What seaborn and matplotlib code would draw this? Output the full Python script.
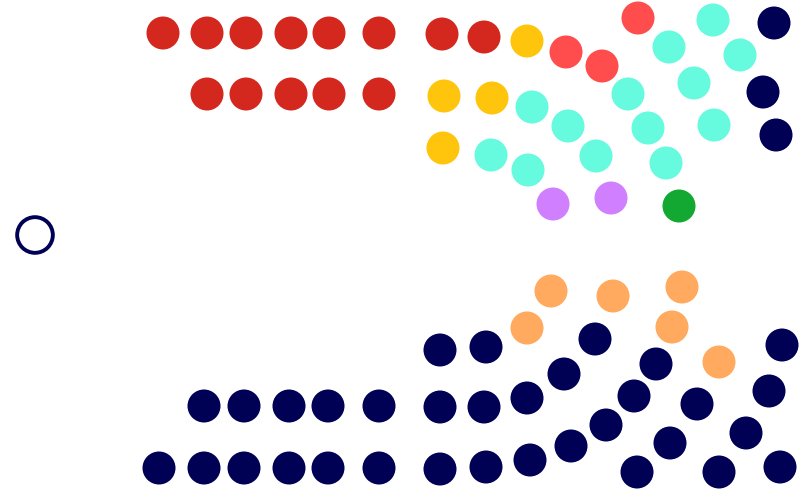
import matplotlib
matplotlib.use("Agg")
import matplotlib.pyplot as plt
import seaborn as sns
import pandas as pd

# Seat positions (in chart pixel units) per party group
dark_red_x = [163, 207, 246, 291, 329, 379, 442, 484, 207, 246, 291, 329, 379]
dark_red_y = [33, 33, 33, 33, 33, 33, 34, 37, 94, 94, 94, 94, 94]

yellow_x = [527, 444, 492, 443]
yellow_y = [41, 96, 98, 148]

light_red_x = [566, 602, 638]
light_red_y = [52, 66, 18]

turquoise_x = [713, 669, 740, 694, 628, 714, 648, 532, 568, 596, 666, 491, 528]
turquoise_y = [20, 47, 55, 83, 94, 125, 128, 107, 126, 156, 163, 155, 170]

navy_top_x = [774, 763, 776]
navy_top_y = [23, 92, 135]

purple_x = [553, 611]
purple_y = [204, 198]

green_x = [679]
green_y = [206]

orange_x = [551, 613, 682, 527, 672, 719]
orange_y = [291, 296, 287, 328, 327, 362]

navy_bottom_x = [440, 486, 595, 782, 564, 656, 527, 440, 484, 634, 697, 769,
                 606, 746, 670, 571, 530, 440, 486, 637, 719, 780,
                 204, 244, 289, 328, 379, 159, 204, 244, 289, 328, 379]
navy_bottom_y = [350, 347, 339, 345, 374, 364, 398, 407, 407, 396, 404, 391,
                 425, 433, 443, 446, 460, 469, 467, 472, 472, 467,
                 406, 406, 406, 406, 406, 468, 468, 468, 468, 468, 468]

speaker_x = [35]
speaker_y = [235]

groups = [
    ("Dark red", dark_red_x, dark_red_y, "#D4271E"),
    ("Yellow", yellow_x, yellow_y, "#FFC50C"),
    ("Light red", light_red_x, light_red_y, "#FF4D4D"),
    ("Turquoise", turquoise_x, turquoise_y, "#66FADF"),
    ("Navy", navy_top_x + navy_bottom_x, navy_top_y + navy_bottom_y, "#000055"),
    ("Purple", purple_x, purple_y, "#D080FF"),
    ("Green", green_x, green_y, "#13A831"),
    ("Orange", orange_x, orange_y, "#FFAA5F"),
]

rows = []
for name, xs, ys, _ in groups:
    for x, y in zip(xs, ys):
        rows.append({"party": name, "x": x, "y": y})
df = pd.DataFrame(rows)
palette = {name: c for name, _, _, c in groups}

sns.set_theme(style="white")
fig = plt.figure(figsize=(8, 4.93), dpi=100)
ax = fig.add_axes([0, 0, 1, 1])

sns.scatterplot(data=df, x="x", y="y", hue="party", palette=palette,
                s=565, linewidth=0, legend=False, ax=ax)

spk = pd.DataFrame({"x": speaker_x, "y": speaker_y})
sns.scatterplot(data=spk, x="x", y="y", s=660, facecolor="none",
                edgecolor="#000055", linewidth=2.8, legend=False, ax=ax)

ax.set_xlim(0, 800)
ax.set_ylim(493, 0)
ax.set_axis_off()
fig.savefig("out.png", dpi=100, facecolor="white")
